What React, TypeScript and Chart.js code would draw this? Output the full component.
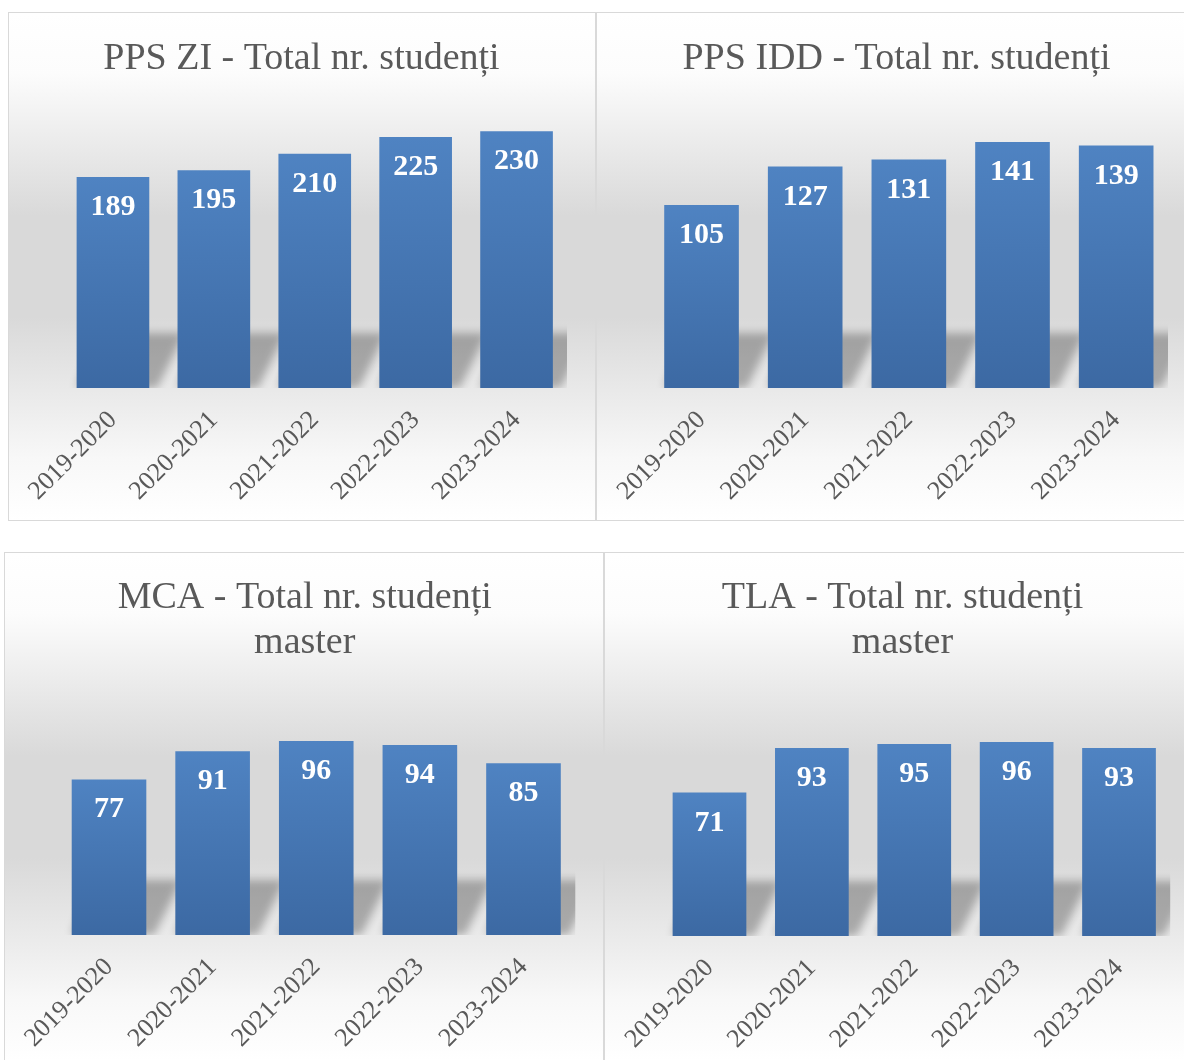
import React, { useEffect, useRef } from "react";
import Chart from "chart.js/auto";

// ---- data ----
const years = ["2019-2020", "2020-2021", "2021-2022", "2022-2023", "2023-2024"];
const ppsZiValues = [189, 195, 210, 225, 230];
const ppsIddValues = [105, 127, 131, 141, 139];
const mcaValues = [77, 91, 96, 94, 85];
const tlaValues = [71, 93, 95, 96, 93];

const ppsZiTitle = ["PPS ZI - Total nr. studenți"];
const ppsIddTitle = ["PPS IDD - Total nr. studenți"];
const mcaTitle = ["MCA - Total nr. studenți", "master"];
const tlaTitle = ["TLA - Total nr. studenți", "master"];

const SERIF = '"Liberation Serif", "Times New Roman", serif';

type PanelCfg = {
  title: string[];
  values: number[];
  yMax: number;
  left: number;
  top: number;
  width: number;
  height: number;
  padL: number;
  padR: number;
  yW: number;
  xH: number;
  tTop: number;
  tBottom: number;
};

const panels: PanelCfg[] = [
  { title: ppsZiTitle, values: ppsZiValues, yMax: 250, left: 8, top: 12, width: 588, height: 509, padL: 27, padR: 28, yW: 26.5, xH: 132, tTop: 24, tBottom: 27.6 },
  { title: ppsIddTitle, values: ppsIddValues, yMax: 160, left: 596, top: 12, width: 600, height: 509, padL: 28, padR: 27, yW: 24.7, xH: 132, tTop: 24, tBottom: 27.6 },
  { title: mcaTitle, values: mcaValues, yMax: 120, left: 4, top: 552, width: 600, height: 510, padL: 29.2, padR: 27.7, yW: 23, xH: 126, tTop: 23, tBottom: 27.8 },
  { title: tlaTitle, values: tlaValues, yMax: 120, left: 604, top: 552, width: 600, height: 510, padL: 29.8, padR: 32.8, yW: 23.5, xH: 125, tTop: 23, tBottom: 28.8 },
];

const shadowPlugin = {
  id: "barShadow",
  beforeDatasetsDraw(chart: any) {
    const { ctx, chartArea } = chart;
    const meta = chart.getDatasetMeta(0);
    ctx.save();
    ctx.beginPath();
    ctx.rect(chartArea.left, chartArea.top, chartArea.right - chartArea.left, chartArea.bottom - chartArea.top);
    ctx.clip();
    ctx.filter = "blur(4px)";
    ctx.fillStyle = "rgba(0,0,0,0.27)";
    meta.data.forEach((bar: any) => {
      const { x, width, base } = bar.getProps(["x", "width", "base"], true);
      const l = x - width / 2;
      const r = x + width / 2;
      ctx.beginPath();
      ctx.moveTo(l + 20, base - 55);
      ctx.lineTo(r + 35, base - 55);
      ctx.lineTo(r + 8, base);
      ctx.lineTo(l, base);
      ctx.closePath();
      ctx.fill();
    });
    ctx.restore();
  },
};

const labelPlugin = {
  id: "barLabels",
  afterDatasetsDraw(chart: any) {
    const { ctx } = chart;
    const meta = chart.getDatasetMeta(0);
    const data = chart.data.datasets[0].data;
    ctx.save();
    ctx.font = `bold 30px ${SERIF}`;
    ctx.fillStyle = "#ffffff";
    ctx.textAlign = "center";
    ctx.textBaseline = "alphabetic";
    meta.data.forEach((bar: any, i: number) => {
      ctx.fillText(String(data[i]), bar.x, bar.y + 38);
    });
    ctx.restore();
  },
};

const PANEL_BG =
  "linear-gradient(to bottom, #ffffff 0%, #fcfcfc 12%, #d9d9d9 40%, #d9d9d9 60%, #f8f8f8 88%, #ffffff 100%)";

function ChartPanel({ cfg }: { cfg: PanelCfg }) {
  const ref = useRef<HTMLCanvasElement>(null);
  useEffect(() => {
    const chart = new Chart(ref.current as HTMLCanvasElement, {
      type: "bar",
      data: {
        labels: years,
        datasets: [
          {
            data: cfg.values,
            backgroundColor: (c: any) => {
              const ch = c.chart;
              if (!ch.chartArea || c.type !== "data" || !ch.scales.y) return "#4677b3";
              const ys = ch.scales.y;
              const top = ys.getPixelForValue(c.raw);
              const bot = ys.getPixelForValue(0);
              const g = ch.ctx.createLinearGradient(0, top, 0, bot);
              g.addColorStop(0, "#4f83c2");
              g.addColorStop(1, "#3c69a3");
              return g;
            },
            borderWidth: 0,
            categoryPercentage: 1,
            barPercentage: 0.72,
          },
        ],
      },
      options: {
        responsive: false,
        animation: false,
        devicePixelRatio: 1,
        layout: { padding: { left: cfg.padL, right: cfg.padR, top: 0, bottom: 0 } },
        plugins: {
          legend: { display: false },
          tooltip: { enabled: false },
          title: {
            display: true,
            text: cfg.title,
            color: "#595959",
            font: { family: SERIF, size: 38, weight: "normal", lineHeight: 1.168 },
            padding: { top: cfg.tTop, bottom: cfg.tBottom },
          },
        },
        scales: {
          x: {
            grid: { display: false, drawTicks: false },
            border: { display: false },
            ticks: {
              color: "#595959",
              font: { family: SERIF, size: 26 },
              minRotation: 45,
              maxRotation: 45,
              autoSkip: false,
              padding: 17,
            },
            afterFit: (s: any) => {
              s.height = cfg.xH;
            },
          },
          y: {
            min: 0,
            max: cfg.yMax,
            grid: { display: false, drawTicks: false },
            border: { display: false },
            ticks: { display: false },
            afterFit: (s: any) => {
              s.width = cfg.yW;
            },
          },
        },
      },
      plugins: [shadowPlugin, labelPlugin],
    } as any);
    return () => chart.destroy();
  }, [cfg]);
  return (
    <div
      style={{
        position: "absolute",
        left: cfg.left,
        top: cfg.top,
        width: cfg.width,
        height: cfg.height,
        boxSizing: "border-box",
        border: "1px solid #d9d9d9",
        background: PANEL_BG,
      }}
    >
      <canvas
        ref={ref}
        width={cfg.width - 2}
        height={cfg.height - 2}
        style={{ position: "absolute", left: 0, top: 0 }}
      />
    </div>
  );
}

export default function App() {
  return (
    <div
      style={{
        position: "absolute",
        left: 0,
        top: 0,
        width: 1184,
        height: 1060,
        overflow: "hidden",
        background: "#ffffff",
      }}
    >
      {panels.map((p, i) => (
        <ChartPanel key={i} cfg={p} />
      ))}
    </div>
  );
}
